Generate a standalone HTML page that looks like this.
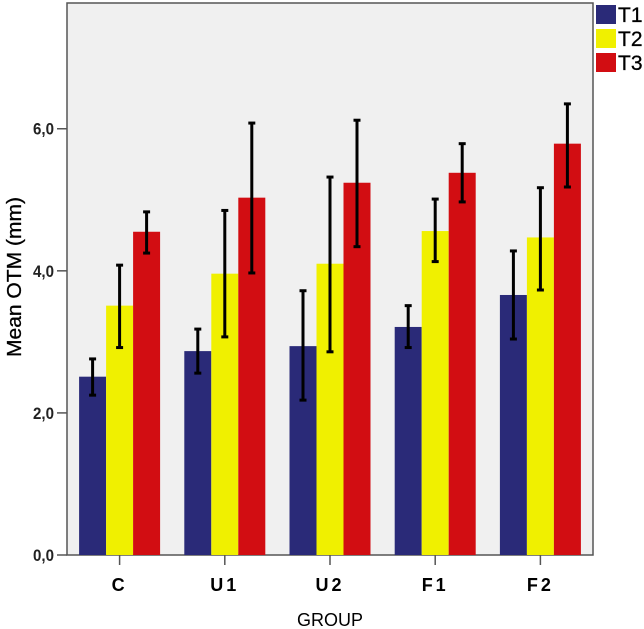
<!DOCTYPE html>
<html><head><meta charset="utf-8"><style>
body{margin:0;background:#fff;}
svg{display:block;font-family:"Liberation Sans",Arial,sans-serif;}
</style></head><body>
<svg id="chart" width="644" height="629">
<rect x="67" y="3" width="526" height="552" fill="#f0f0f0" stroke="#555" stroke-width="1.5"/>
<g id="bars"></g>
<g id="errs"></g>
<g id="yaxis"></g>
<g id="xaxis"></g>
<text x="21" y="277" transform="rotate(-90 21 277)" text-anchor="middle" font-size="20" fill="#000" stroke="#000" stroke-width="0.3" textLength="160" lengthAdjust="spacingAndGlyphs">Mean OTM (mm)</text>
<text x="330" y="626" text-anchor="middle" font-size="18" fill="#000">GROUP</text>
<g id="legend"></g>
</svg>
<script>
const categories=["C","U1","U2","F1","F2"];
const seriesNames=["T1","T2","T3"];
const t1=[2.51,2.87,2.94,3.21,3.66];
const t2=[3.51,3.96,4.10,4.56,4.47];
const t3=[4.55,5.03,5.24,5.38,5.79];
const t1Hi=[2.76,3.18,3.72,3.51,4.28];
const t1Lo=[2.25,2.56,2.18,2.92,3.04];
const t2Hi=[4.08,4.85,5.32,5.01,5.17];
const t2Lo=[2.92,3.07,2.86,4.13,3.73];
const t3Hi=[4.83,6.08,6.12,5.79,6.35];
const t3Lo=[4.25,3.97,4.34,4.97,5.18];
const yTicks=[0,2,4,6];
const yTickLabels=["0,0","2,0","4,0","6,0"];
const colors=["#2a2a78","#f0f000","#d20d12"];
const NS="http://www.w3.org/2000/svg";
const y0=555, yMax=7.77, plotTop=3;
function y(v){return y0-(v/yMax)*(y0-plotTop);}
const left=67, right=593, bandW=(right-left)/categories.length;
function xc(i){return left+bandW*(i+0.5);}
const barW=27;
function mk(t,a,p){const e=document.createElementNS(NS,t);for(const k in a)e.setAttribute(k,a[k]);p.appendChild(e);return e;}
const vals=[t1,t2,t3], his=[t1Hi,t2Hi,t3Hi], los=[t1Lo,t2Lo,t3Lo];
const gb=document.getElementById('bars'), ge=document.getElementById('errs');
categories.forEach((c,i)=>{
  vals.forEach((s,j)=>{
    const bx=xc(i)+(j-1.5)*barW;
    const r=mk('rect',{x:bx,y:y(s[i]),width:barW,height:y0-y(s[i]),fill:colors[j]},gb);
    
    
    const cx=bx+barW/2;
    const g=mk('g',{stroke:'#000','stroke-width':3},ge);
    
    
    mk('line',{x1:cx,x2:cx,y1:y(his[j][i]),y2:y(los[j][i])},g);
    mk('line',{x1:cx-3.5,x2:cx+3.5,y1:y(his[j][i]),y2:y(his[j][i])},g);
    mk('line',{x1:cx-3.5,x2:cx+3.5,y1:y(los[j][i]),y2:y(los[j][i])},g);
  });
});
const gy=document.getElementById('yaxis');
yTicks.forEach((v,k)=>{
  mk('line',{x1:57,x2:67,y1:y(v),y2:y(v),stroke:'#555','stroke-width':1.5},gy);
  const t=mk('text',{x:54,y:y(v)+6,'text-anchor':'end','font-size':17,'font-weight':'bold',fill:'#222',textLength:21,lengthAdjust:'spacingAndGlyphs'},gy);
  t.textContent=yTickLabels[k];
  
  
});
const gx=document.getElementById('xaxis');
categories.forEach((c,i)=>{
  mk('line',{x1:xc(i),x2:xc(i),y1:555,y2:565,stroke:'#555','stroke-width':1.5},gx);
  const t=mk('text',{x:xc(i),y:591,'text-anchor':'middle','font-size':18,'font-weight':'bold',fill:'#000','letter-spacing':'3'},gx);
  t.textContent=c;
  
  
});
const gl=document.getElementById('legend');
seriesNames.forEach((n,j)=>{
  const g=mk('g',{},gl);
  
  
  mk('rect',{x:596,y:5+j*24,width:20,height:19,fill:colors[j]},g);
  const t=mk('text',{x:618,y:22+j*24,'font-size':21,fill:'#000',stroke:'#000','stroke-width':0.3},g);
  t.textContent=n;
});
</script>
</body></html>
